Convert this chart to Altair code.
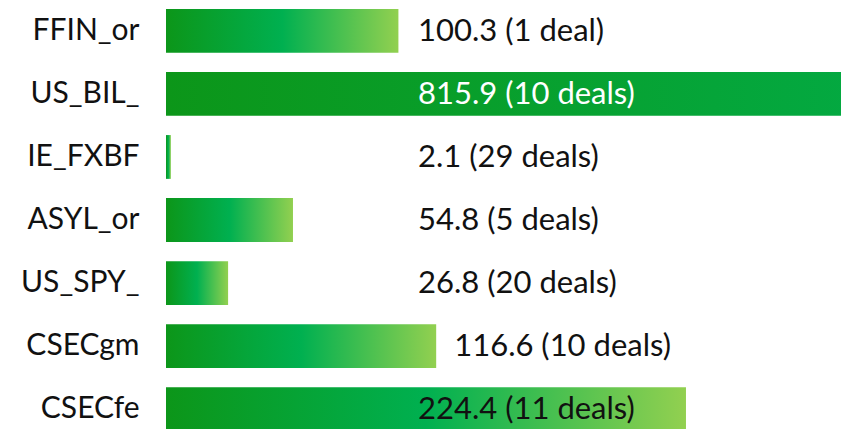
import altair as alt
import pandas as pd

names = ["FFIN_or", "US_BIL_", "IE_FXBF", "ASYL_or", "US_SPY_", "CSECgm", "CSECfe"]
values = [100.3, 815.9, 2.1, 54.8, 26.8, 116.6, 224.4]
deals = [1, 10, 29, 5, 20, 10, 11]

df = pd.DataFrame({"name": names, "value": values, "deals": deals})
df["label"] = [f"{v} ({d} deal{'s' if d != 1 else ''})" for v, d in zip(values, deals)]

FONT = "Lato"
grad = alt.Gradient(
    gradient="linear", x1=0, y1=0, x2=1, y2=0,
    stops=[alt.GradientStop(color="#0c9619", offset=0),
           alt.GradientStop(color="#00b050", offset=0.5),
           alt.GradientStop(color="#92d050", offset=1)],
)

y = alt.Y("name:N", sort=names,
          scale=alt.Scale(paddingInner=0.305, paddingOuter=0.016),
          axis=alt.Axis(title=None, ticks=False, domain=False, labelFont=FONT,
                        labelFontSize=30, labelColor="#111111", labelPadding=27,
                        minExtent=158, maxExtent=158, grid=False))
xscale = alt.Scale(domain=[0, 291.3], nice=False, zero=True)

bars = alt.Chart(df).mark_bar(color=grad, clip=True).encode(
    x=alt.X("value:Q", scale=xscale, axis=None),
    y=y,
)

text = alt.Chart(df).transform_calculate(
    tx="datum.value > 200 ? 101 : max(datum.value, 101)"
).mark_text(align="left", baseline="middle", dx=18, dy=1, font=FONT, fontSize=31).encode(
    x=alt.X("tx:Q", scale=xscale, axis=None),
    y=y,
    text="label:N",
    color=alt.condition(alt.datum.value > 300, alt.value("white"), alt.value("#111111")),
)

chart = (bars + text).properties(
    width=675, height=424,
    padding={"left": 0, "top": 0, "right": 0, "bottom": 0},
).configure_view(stroke=None)

chart.save("out.html", embed_options={"renderer": "svg", "actions": False})
